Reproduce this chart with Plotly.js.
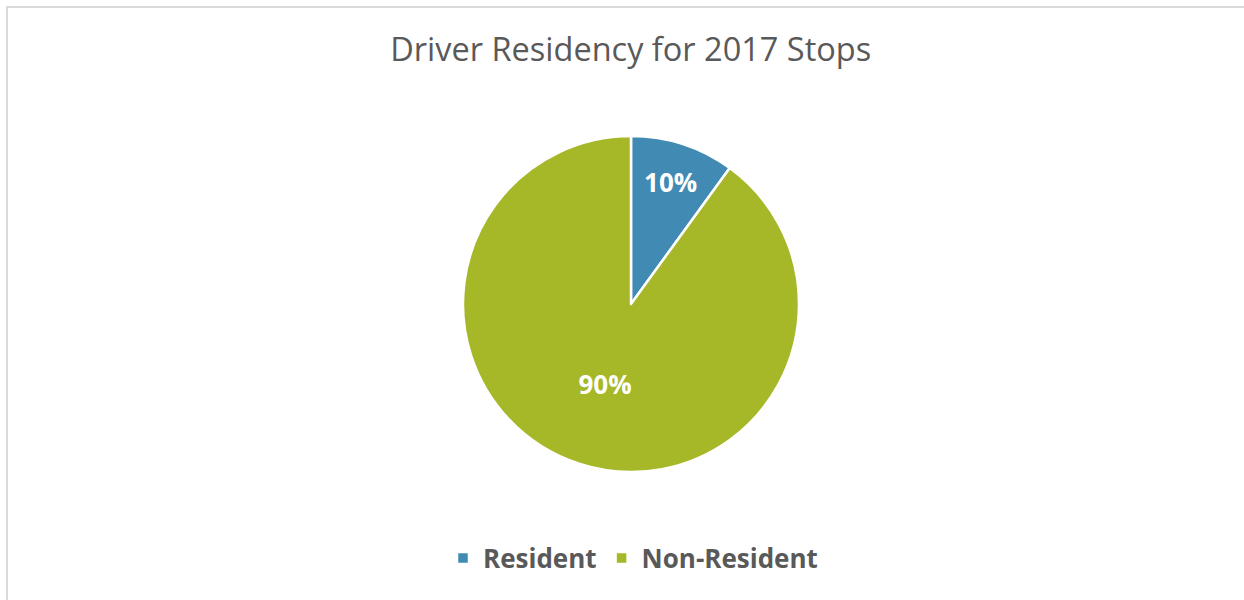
<!DOCTYPE html>
<html>
<head>
<meta charset="utf-8">
<script src="https://cdn.plot.ly/plotly-3.0.1.min.js"></script>
<style>
html,body{margin:0;padding:0;background:#fff;}
#wrap{position:absolute;left:0;top:0;width:1244px;height:600px;}
#frame{position:absolute;left:6px;top:6px;width:1240px;height:600px;border-top:2px solid #d9d9d9;border-left:2px solid #d9d9d9;pointer-events:none;}
#chart{position:absolute;left:0;top:0;width:1244px;height:600px;}
</style>
</head>
<body>
<div id="wrap">
<div id="chart"></div>
<div id="frame"></div>
</div>
<script>
const categories = ["Resident", "Non-Resident"];
const shares = [10, 90];
const sliceColors = ["#418AB3", "#A6B727"];
const chartTitle = "Driver Residency for 2017 Stops";

const cx = 631, cy = 304, r = 168, W = 1244, H = 600;

const trace = {
  type: "pie",
  labels: categories,
  values: shares,
  sort: false,
  direction: "clockwise",
  rotation: 0,
  marker: {colors: sliceColors, line: {color: "#ffffff", width: 2.5}},
  textinfo: "percent",
  texttemplate: "%{percent:.0%}",
  textposition: "inside",
  insidetextorientation: "horizontal",
  textfont: {family: "Open Sans, sans-serif", size: 26, color: "#ffffff", weight: "bold"},
  hoverinfo: "label+percent",
  domain: {x: [(cx - r) / W, (cx + r) / W], y: [1 - (cy + r) / H, 1 - (cy - r) / H]}
};

const layout = {
  width: W, height: H,
  margin: {l: 0, r: 0, t: 0, b: 0},
  paper_bgcolor: "#ffffff",
  title: {
    text: chartTitle,
    font: {family: "Open Sans, sans-serif", size: 32.5, color: "#595959"},
    x: 0.507, xanchor: "center", y: 1 - 50 / H, yanchor: "middle"
  },
  showlegend: true,
  legend: {
    orientation: "h",
    x: 443 / W, xanchor: "left",
    y: 1 - 558 / H, yanchor: "middle",
    font: {family: "Open Sans, sans-serif", size: 26, color: "#595959", weight: "bold"},
    itemwidth: 30,
    traceorder: "normal"
  }
};

Plotly.newPlot("chart", [trace], layout, {displayModeBar: false, staticPlot: true});
</script>
</body>
</html>
